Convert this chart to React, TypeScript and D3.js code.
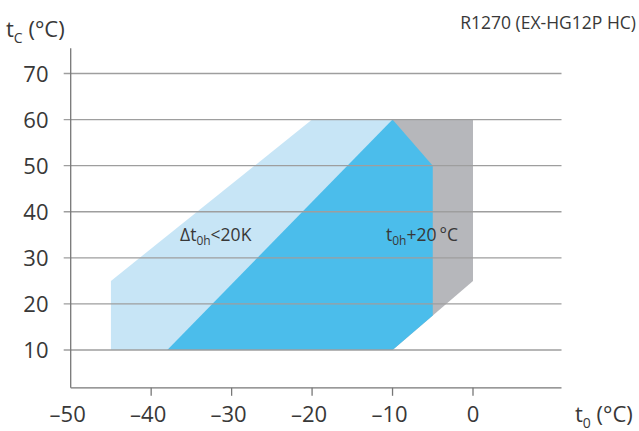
import React from "react";
import * as d3 from "d3";

// Envelope polygons (t0 °C, tc °C)
const lightRegion: [number, number][] = [
  [-45, 10], [-45, 25], [-20, 60], [-10, 60], [-10, 10],
];
const greyRegion: [number, number][] = [
  [-10, 60], [0, 60], [0, 25], [-10, 10],
];
const blueRegion: [number, number][] = [
  [-38, 10], [-10, 60], [-5, 50], [-5, 17.5], [-10, 10],
];

const xTicks = [-50, -40, -30, -20, -10, 0];
const yTicks = [10, 20, 30, 40, 50, 60, 70];

const W = 639;
const H = 431;
const FONT = "'Open Sans', 'Noto Sans', sans-serif";

const x = d3.scaleLinear().domain([-50, 0]).range([70.7, 473]);
const y = d3.scaleLinear().domain([10, 70]).range([350, 73.5]);

const xAxisEnd = 11;
const yAxisBottom = 1.8;
const yAxisTop = 75.5;

const line = d3
  .line<[number, number]>()
  .x((d) => x(d[0]))
  .y((d) => y(d[1]));

const fmt = (v: number) => (v < 0 ? "\u2013" + Math.abs(v) : String(v));

export default function App() {
  const axisY = y(yAxisBottom);
  const axisX = x(-50);
  return (
    <svg
      width={W}
      height={H}
      style={{ position: "absolute", left: 0, top: 0, background: "#fff" }}
      fontFamily={FONT}
    >
      <path d={line(lightRegion) + "Z"} fill="#c7e5f6" />
      <path d={line(greyRegion) + "Z"} fill="#b6b7bb" />
      <path d={line(blueRegion) + "Z"} fill="#4bbdeb" />

      {/* horizontal gridlines with left tick stubs */}
      {yTicks.map((t) => (
        <g key={t}>
          <line
            x1={axisX - 7}
            x2={x(xAxisEnd)}
            y1={y(t)}
            y2={y(t)}
            stroke="#9e9e9e"
            strokeWidth={1.3}
          />
          <text
            x={48.5}
            y={y(t) + 8}
            textAnchor="end"
            fontSize={22}
            fill="#383838"
          >
            {t}
          </text>
        </g>
      ))}

      {/* axes */}
      <line
        x1={axisX}
        x2={axisX}
        y1={y(yAxisTop)}
        y2={axisY}
        stroke="#777"
        strokeWidth={1.3}
      />
      <line
        x1={axisX}
        x2={x(xAxisEnd)}
        y1={axisY}
        y2={axisY}
        stroke="#777"
        strokeWidth={1.3}
      />
      {xTicks.map((t) => (
        <g key={t}>
          {t !== -50 && (
            <line
              x1={x(t)}
              x2={x(t)}
              y1={axisY}
              y2={axisY + 8}
              stroke="#777"
              strokeWidth={1.3}
            />
          )}
          <text
            x={x(t) - (t < 0 ? 3 : 0)}
            y={421.5}
            textAnchor="middle"
            fontSize={22}
            fill="#383838"
          >
            {fmt(t)}
          </text>
        </g>
      ))}

      {/* axis titles */}
      <text x={6} y={37} fontSize={22} fill="#383838">
        t
        <tspan fontSize={14} dy={6}>C</tspan>
        <tspan dy={-6}> (°C)</tspan>
      </text>
      <text x={575} y={421.5} fontSize={22} fill="#383838">
        t
        <tspan fontSize={14} dy={6}>0</tspan>
        <tspan dy={-6}> (°C)</tspan>
      </text>

      <text x={636} y={29} textAnchor="end" fontSize={17.5} fill="#383838">
        R1270 (EX-HG12P HC)
      </text>

      {/* region labels */}
      <text x={180} y={241} fontSize={17.5} fill="#383838">
        Δt
        <tspan fontSize={12} dy={4}>0h</tspan>
        <tspan dy={-4}>&lt;20K</tspan>
      </text>
      <text x={386} y={241} fontSize={17.5} fill="#383838">
        t
        <tspan fontSize={12} dy={4}>0h</tspan>
        <tspan dy={-4}>+20{"\u2009"}°C</tspan>
      </text>
    </svg>
  );
}
